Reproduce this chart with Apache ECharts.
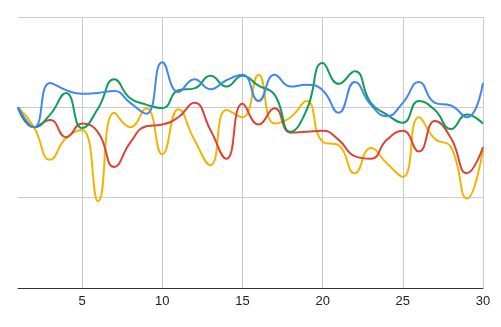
<!DOCTYPE html>
<html lang="en">
<head>
    <meta charset="UTF-8">
    <title>chart</title>
    <style type="text/css">
        html, body { margin: 0; padding: 0; background: #fff; }
        #main { width: 501px; height: 327px; }
    </style>
</head>
<body>
<div id="main"></div>
<script type="text/javascript" src="https://cdn.jsdelivr.net/npm/echarts@6/dist/echarts.min.js"></script>
<script type="text/javascript">
    var days = [];
    for (var d = 1; d <= 30; d++) { days.push(String(d)); }

    var blueData = [20.0, 17.8, 22.7, 21.9, 21.5, 21.6, 21.8, 20.5, 19.3, 25.0,
                    21.7, 23.1, 22.0, 23.0, 23.6, 20.7, 23.6, 22.3, 22.5, 21.9,
                    19.4, 22.8, 20.3, 19.0, 20.5, 22.8, 20.5, 20.2, 18.9, 22.7];
    var greenData = [20.0, 17.8, 19.2, 21.6, 17.7, 19.9, 23.1, 21.0, 20.3, 19.9,
                     21.9, 22.1, 23.5, 22.3, 23.5, 22.4, 21.4, 17.3, 19.7, 24.9,
                     22.6, 24.0, 20.5, 19.2, 18.3, 20.7, 19.7, 17.6, 19.2, 18.2];
    var redData = [20.0, 17.8, 18.6, 16.7, 18.2, 17.2, 13.4, 16.1, 17.9, 18.1,
                   18.9, 20.5, 17.5, 14.3, 20.4, 18.1, 19.9, 17.2, 17.3, 17.4,
                   16.4, 14.6, 14.3, 16.4, 17.4, 15.1, 18.5, 16.6, 12.7, 15.6];
    var yellowData = [20.0, 17.8, 14.2, 16.6, 17.5, 9.6, 19.4, 17.8, 19.9, 14.8,
                      19.8, 16.4, 13.6, 19.7, 18.9, 23.6, 18.2, 18.9, 20.7, 16.2,
                      15.8, 12.7, 15.5, 13.8, 12.3, 18.9, 16.5, 15.6, 9.9, 15.3];

    function line(data, color, z) {
        return {
            type: 'line',
            data: data,
            smooth: 0.5,
            symbol: 'none',
            z: z,
            lineStyle: { color: color, width: 2 }
        };
    }

    var chart = echarts.init(document.getElementById('main'));
    chart.setOption({
        animation: false,
        grid: { left: 18, right: 18, top: 17, bottom: 39 },
        xAxis: {
            type: 'category',
            data: days,
            boundaryGap: false,
            axisLine: { lineStyle: { color: '#333', width: 1 } },
            axisTick: { show: false },
            axisLabel: {
                interval: function (i, v) { return Number(v) % 5 === 0; },
                color: '#222',
                fontFamily: 'Arial, "Liberation Sans", sans-serif',
                fontSize: 13,
                margin: 7
            },
            splitLine: {
                show: true,
                interval: function (i, v) { return Number(v) % 5 === 0; },
                lineStyle: { color: '#ccc', width: 1 }
            }
        },
        yAxis: {
            type: 'value',
            min: 0,
            max: 30,
            interval: 10,
            axisLine: { show: false },
            axisTick: { show: false },
            axisLabel: { show: false },
            splitLine: { lineStyle: { color: '#ccc', width: 1 } }
        },
        series: [
            line(yellowData, '#f4b400', 1),
            line(redData, '#db4437', 2),
            line(greenData, '#0f9d58', 3),
            line(blueData, '#4285f4', 4)
        ]
    });
</script>
</body>
</html>
